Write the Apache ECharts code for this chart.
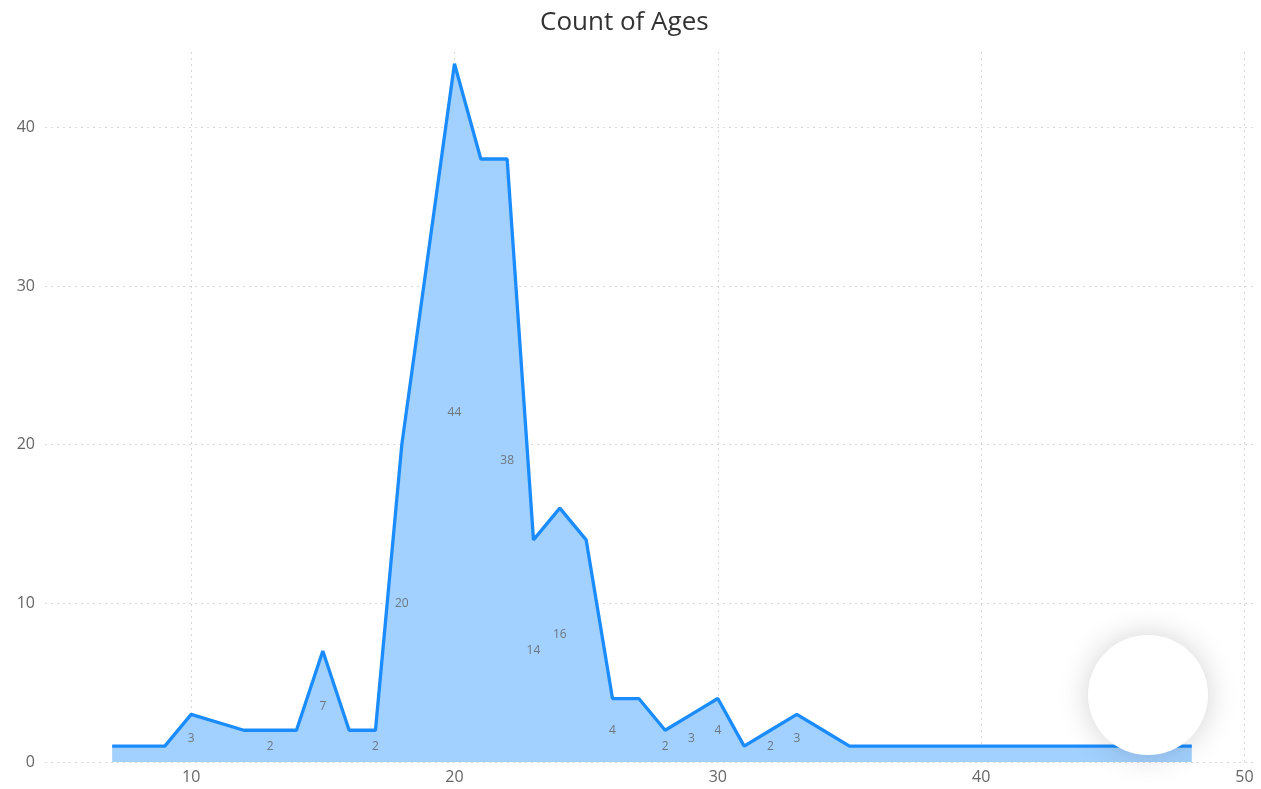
<!DOCTYPE html>
<html>
<head>
<meta charset="utf-8">
<script src="https://cdn.jsdelivr.net/npm/echarts@6/dist/echarts.min.js"></script>
<style>
html,body{margin:0;padding:0;background:#fff;}
#c{width:1261px;height:789px;}
</style>
</head>
<body>
<div id="c"></div>
<script>
const ages   = [7,8,9,10,12,13,14,15,16,17,18,19,20,21,22,23,24,25,26,27,28,29,30,31,32,33,34,35,36,37,38,39,40,41,42,43,44,45,46,47,48];
const counts = [1,1,1,3,2,2,2,7,2,2,20,32,44,38,38,14,16,14,4,4,2,3,4,1,2,3,2,1,1,1,1,1,1,1,1,1,1,1,1,1,1];
const labeledAges = [10,13,15,17,18,20,22,23,24,26,28,29,30,32,33];
const xTicks = [10,20,30,40,50];
const yTicks = [0,10,20,30,40];

const lineData = ages.map((a,i)=>[a,counts[i]]);
const labelData = labeledAges.map(a=>{const v=counts[ages.indexOf(a)];return [a,v/2,v];});

const chart = echarts.init(document.getElementById('c'));
const font = '"Open Sans", "Noto Sans", sans-serif';
const gridLine = {color:'#d8d8d8',type:[2,4],width:1};
chart.setOption({
  animation:false,
  title:{text:'Count of Ages',left:535,top:5,textStyle:{fontFamily:font,fontSize:26,fontWeight:'normal',color:'#333'}},
  grid:{left:45,right:6,top:50,bottom:27,containLabel:false},
  xAxis:{type:'value',min:4.45,max:50.4,
    axisLine:{show:false},axisTick:{show:false,customValues:xTicks},
    axisLabel:{customValues:xTicks,color:'#666',fontSize:16,fontFamily:font,margin:7},
    splitLine:{show:false}},
  yAxis:{type:'value',min:0,max:44.87,
    axisLine:{show:false},axisTick:{show:false,customValues:yTicks},
    axisLabel:{customValues:yTicks,color:'#666',fontSize:16,fontFamily:font,margin:10},
    splitLine:{show:false}},
  series:[
    {type:'line',data:lineData,symbol:'none',
      lineStyle:{color:'#1A8CFF',width:3.3},
      areaStyle:{color:'#A2D1FF',opacity:1},z:3,
      markLine:{silent:true,symbol:'none',label:{show:false},
        lineStyle:gridLine,
        data:xTicks.map(t=>({xAxis:t})).concat(yTicks.map(t=>({yAxis:t}))),z:1}},
    {type:'scatter',data:labelData,symbolSize:0.1,z:5,
      label:{show:true,position:'inside',formatter:p=>String(p.value[2]),color:'#5f5f5f',fontSize:12,fontFamily:font}}
  ],
  graphic:[{type:'circle',shape:{cx:1148,cy:695,r:60},style:{fill:'#fff',shadowBlur:30,shadowColor:'rgba(0,0,0,0.18)'},z:100}]
});
</script>
</body>
</html>
